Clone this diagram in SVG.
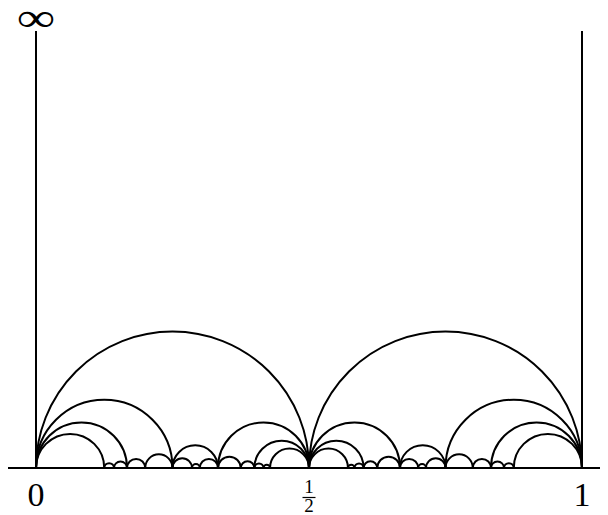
<svg xmlns="http://www.w3.org/2000/svg" width="608" height="515" viewBox="0 0 608 515">
<style>
.ln{fill:none;stroke:#000;stroke-width:2;stroke-linecap:butt}
.lb{font-family:"Liberation Serif","DejaVu Serif",serif;fill:#000;text-anchor:middle}
</style>
<rect width="608" height="515" fill="#fff"/>
<g id="axes" class="ln">
<line x1="8" y1="468" x2="600" y2="468"/>
<line x1="36" y1="31" x2="36" y2="468"/>
<line x1="582" y1="31" x2="582" y2="468"/>
</g>
<g id="arcs" class="ln">
<path d="M36 468A136.5 136.5 0 0 1 309 468"/>
<path d="M36 468A68.25 68.25 0 0 1 172.5 468"/>
<path d="M36 468A45.5 45.5 0 0 1 127 468"/>
<path d="M36 468A34.125 34.125 0 0 1 104.25 468"/>
<path d="M104.25 468A4.875 4.875 0 0 1 114 468"/>
<path d="M114 468A6.5 6.5 0 0 1 127 468"/>
<path d="M127 468A9.1 9.1 0 0 1 145.2 468"/>
<path d="M145.2 468A13.65 13.65 0 0 1 172.5 468"/>
<path d="M172.5 468A22.75 22.75 0 0 1 218 468"/>
<path d="M172.5 468A9.75 9.75 0 0 1 192 468"/>
<path d="M192 468A3.9 3.9 0 0 1 199.8 468"/>
<path d="M199.8 468A9.1 9.1 0 0 1 218 468"/>
<path d="M218 468A45.5 45.5 0 0 1 309 468"/>
<path d="M218 468A11.375 11.375 0 0 1 240.75 468"/>
<path d="M240.75 468A6.825 6.825 0 0 1 254.4 468"/>
<path d="M254.4 468A27.3 27.3 0 0 1 309 468"/>
<path d="M254.4 468A4.55 4.55 0 0 1 263.5 468"/>
<path d="M263.5 468A3.25 3.25 0 0 1 270 468"/>
<path d="M270 468A19.5 19.5 0 0 1 309 468"/>
<path d="M309 468A136.5 136.5 0 0 1 582 468"/>
<path d="M445.5 468A68.25 68.25 0 0 1 582 468"/>
<path d="M491 468A45.5 45.5 0 0 1 582 468"/>
<path d="M513.75 468A34.125 34.125 0 0 1 582 468"/>
<path d="M504 468A4.875 4.875 0 0 1 513.75 468"/>
<path d="M491 468A6.5 6.5 0 0 1 504 468"/>
<path d="M472.8 468A9.1 9.1 0 0 1 491 468"/>
<path d="M445.5 468A13.65 13.65 0 0 1 472.8 468"/>
<path d="M400 468A22.75 22.75 0 0 1 445.5 468"/>
<path d="M426 468A9.75 9.75 0 0 1 445.5 468"/>
<path d="M418.2 468A3.9 3.9 0 0 1 426 468"/>
<path d="M400 468A9.1 9.1 0 0 1 418.2 468"/>
<path d="M309 468A45.5 45.5 0 0 1 400 468"/>
<path d="M377.25 468A11.375 11.375 0 0 1 400 468"/>
<path d="M363.6 468A6.825 6.825 0 0 1 377.25 468"/>
<path d="M309 468A27.3 27.3 0 0 1 363.6 468"/>
<path d="M354.5 468A4.55 4.55 0 0 1 363.6 468"/>
<path d="M348 468A3.25 3.25 0 0 1 354.5 468"/>
<path d="M309 468A19.5 19.5 0 0 1 348 468"/>
</g>
<g id="labels">
<text class="lb" font-size="40" transform="translate(36,31) scale(1.35,1)">∞</text>
<text class="lb" x="36" y="506" font-size="34">0</text>
<text class="lb" x="582" y="506" font-size="34">1</text>
<text class="lb" x="309" y="493" font-size="19">1</text>
<line x1="302.5" y1="497.5" x2="315.5" y2="497.5" stroke="#000" stroke-width="1.2"/>
<text class="lb" x="309" y="512" font-size="19">2</text>
</g>
</svg>
